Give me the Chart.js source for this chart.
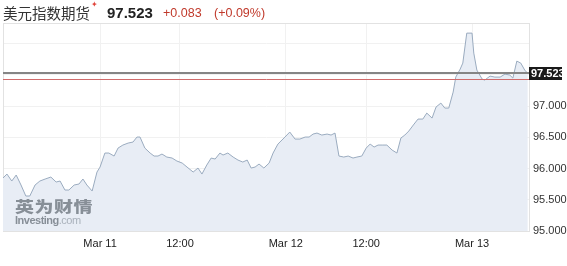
<!DOCTYPE html>
<html lang="zh">
<head>
<meta charset="UTF-8">
<title>美元指数期货</title>
<script src="https://cdn.jsdelivr.net/npm/chart.js"></script>
<style>
  body { margin: 0; background: #fff; font-family: 'Liberation Sans', Arial, sans-serif; }
  .wrap { position: relative; width: 567px; height: 266px; overflow: hidden; }
  canvas { position: absolute; left: 0; top: 0; }
  .t { position: absolute; white-space: nowrap; line-height: 16px; }
  .name { left: 3px; top: 5px; font-size: 14.5px; color: #333; font-family: 'Noto Sans CJK SC', sans-serif; }
  .star { left: 91px; top: -3px; font-size: 8px; color: #e0433a; }
  .price { left: 107px; top: 5px; font-size: 15px; font-weight: bold; color: #222; }
  .chg { left: 163px; top: 5px; font-size: 12.5px; color: #c0392b; }
  .pct { left: 214px; top: 5px; font-size: 12.5px; color: #c0392b; }
  .wm { position: absolute; left: 15px; top: 198px; color: #6f7780; opacity: 0.8; }
  .wm .cn { font-family: 'Noto Sans CJK SC', sans-serif; font-weight: 900; font-size: 19px; line-height: 19px; letter-spacing: 0.5px; transform: scaleY(0.78); transform-origin: left top; }
  .wm .cn span { color: #c9a56a; }
  .wm .en { font-size: 11px; line-height: 11px; font-weight: bold; letter-spacing: -0.5px; margin-top: -2px; }
  .wm .en span { font-weight: normal; color: #9aa3ad; }
</style>
</head>
<body>
<div class="wrap">
  <canvas id="chart" width="567" height="266"></canvas>
  <div class="t name">美元指数期货</div>
  <div class="t star">✦</div>
  <div class="t price">97.523</div>
  <div class="t chg">+0.083</div>
  <div class="t pct">(+0.09%)</div>
  <div class="wm"><div class="cn">英为财情</div><div class="en">Investing<span>.com</span></div></div>
</div>

<script>
  // position along the session (bar index) and price
  const positions = [0.0, 0.9, 2.0, 3.0, 4.1, 5.2, 6.1, 7.3, 8.4, 9.6, 10.9, 12.1, 13.0, 14.1, 15.0, 16.2, 17.3, 18.2, 19.1, 20.3,
    21.4, 22.1, 23.2, 24.1, 25.3, 26.2, 27.3, 28.5, 29.6, 30.5, 31.2, 32.3, 33.5, 34.4, 35.3, 36.2, 37.3, 38.5, 39.6, 40.8,
    41.9, 43.3, 44.4, 45.3, 46.4, 47.4, 48.3, 49.4, 50.1, 51.2, 52.4, 53.5, 54.6, 55.6, 56.5, 57.4, 58.3, 59.4, 60.6, 61.5,
    62.6, 64.2, 65.3, 66.5, 67.6, 68.8, 69.7, 70.6, 71.5, 72.6, 73.8, 74.7, 75.6, 76.5, 77.6, 78.6, 79.7, 80.6, 81.7, 82.7,
    83.6, 84.5, 85.4, 86.5, 87.4, 88.6, 89.7, 90.6, 91.5, 92.4, 93.6, 94.5, 95.6, 96.5, 97.7, 98.6, 99.7, 100.6, 101.5, 102.5,
    103.1, 104.1, 104.7, 105.6, 106.8, 107.2, 107.9, 109.1, 109.7, 110.9, 112.0, 113.2, 114.3, 115.4, 116.1, 117.0, 117.9, 118.8, 119.5];
  const values = [95.848, 95.912, 95.800, 95.896, 95.736, 95.560, 95.560, 95.736, 95.800, 95.832, 95.864, 95.784, 95.800, 95.656, 95.656, 95.736, 95.752, 95.832, 95.736, 95.640,
    95.944, 96.024, 96.248, 96.248, 96.200, 96.328, 96.376, 96.408, 96.424, 96.504, 96.504, 96.328, 96.248, 96.200, 96.200, 96.232, 96.184, 96.168, 96.120, 96.088,
    96.024, 95.944, 96.008, 95.912, 96.056, 96.168, 96.152, 96.248, 96.216, 96.248, 96.184, 96.136, 96.104, 96.136, 96.008, 96.024, 96.072, 96.008, 96.088, 96.248,
    96.392, 96.504, 96.584, 96.472, 96.472, 96.504, 96.504, 96.552, 96.568, 96.536, 96.552, 96.536, 96.568, 96.200, 96.184, 96.200, 96.168, 96.184, 96.200, 96.328,
    96.392, 96.344, 96.376, 96.376, 96.376, 96.296, 96.248, 96.488, 96.536, 96.600, 96.712, 96.792, 96.792, 96.888, 96.808, 96.984, 97.048, 96.968, 96.968, 97.224,
    97.464, 97.592, 97.688, 98.168, 98.168, 97.848, 97.576, 97.432, 97.416, 97.480, 97.464, 97.464, 97.512, 97.496, 97.448, 97.720, 97.688, 97.576, 97.523];

  const tickPos = [22.1, 40.3, 64.4, 82.7, 106.8];
  const tickLabels = ['Mar 11', '12:00', 'Mar 12', '12:00', 'Mar 13'];
  const lastPrice = 97.523;
  const prevClose = 97.440;

  const overlay = {
    id: 'overlay',
    beforeDatasetsDraw(c) {
      const { ctx, chartArea: a } = c;
      ctx.save();
      ctx.strokeStyle = '#e2e2e2';
      ctx.lineWidth = 1;
      ctx.strokeRect(a.left + 0.5, a.top + 0.5, a.right - a.left - 1, a.bottom - a.top);
      ctx.restore();
    },
    afterDatasetsDraw(c) {
      const { ctx, chartArea: a, scales: { y } } = c;
      const yp = Math.round(y.getPixelForValue(prevClose)) + 0.5;
      const yl = Math.round(y.getPixelForValue(lastPrice));
      ctx.save();
      ctx.strokeStyle = '#cf6b6b';
      ctx.lineWidth = 1;
      ctx.beginPath(); ctx.moveTo(a.left, yp); ctx.lineTo(a.right, yp); ctx.stroke();
      ctx.strokeStyle = '#858585';
      ctx.lineWidth = 2;
      ctx.beginPath(); ctx.moveTo(a.left, yl); ctx.lineTo(a.right, yl); ctx.stroke();
      ctx.fillStyle = '#1a1a1a';
      ctx.fillRect(a.right - 1, yl - 6, 33, 13);
      ctx.fillStyle = '#fff';
      ctx.font = 'bold 11px "Liberation Sans", Arial, sans-serif';
      ctx.textBaseline = 'middle';
      ctx.fillText(lastPrice.toFixed(3), a.right + 1, yl + 0.5);
      ctx.restore();
    }
  };

  new Chart(document.getElementById('chart'), {
    type: 'line',
    data: {
      datasets: [{
        data: positions.map((x, i) => ({ x: x, y: values[i] })),
        borderColor: '#9aabbf',
        borderWidth: 1,
        backgroundColor: '#e8edf5',
        fill: 'start',
        pointRadius: 0,
        tension: 0
      }]
    },
    options: {
      responsive: false,
      animation: false,
      layout: { padding: { top: 23, left: 3, right: 0, bottom: 0 } },
      plugins: { legend: { display: false }, tooltip: { enabled: false } },
      scales: {
        x: {
          type: 'linear',
          min: 0,
          max: 120,
          afterBuildTicks: s => { s.ticks = tickPos.map(v => ({ value: v })); },
          afterFit: s => { s.height = 35; },
          ticks: {
            autoSkip: false,
            maxRotation: 0,
            padding: 6,
            color: '#222',
            font: { size: 11, family: '"Liberation Sans", Arial, sans-serif' },
            callback: (v, i) => tickLabels[i]
          },
          grid: { color: '#f1f1f1', drawTicks: false },
          border: { display: false }
        },
        y: {
          position: 'right',
          min: 95,
          max: 98.33,
          afterFit: s => { s.width = 37; },
          ticks: {
            stepSize: 0.5,
            includeBounds: false,
            padding: 3,
            color: '#333',
            font: { size: 11, family: '"Liberation Sans", Arial, sans-serif' },
            callback: v => (v <= 97.2 ? Number(v).toFixed(3) : '')
          },
          grid: { color: '#f1f1f1', drawTicks: false },
          border: { display: false }
        }
      }
    },
    plugins: [overlay]
  });
</script>
</body>
</html>
